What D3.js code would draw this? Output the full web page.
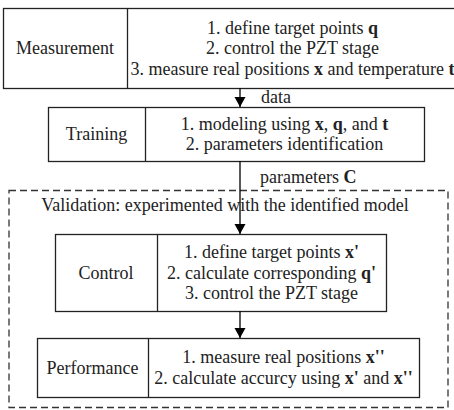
<!DOCTYPE html>
<html><head><meta charset="utf-8">
<script src="https://cdn.jsdelivr.net/npm/d3@7"></script>
<style>
body{margin:0;background:#fff;font-family:"Liberation Serif",Tinos,Times;}
svg text, svg tspan{font-family:"Liberation Serif",Tinos,Times !important;}
</style>
</head><body><svg id="c" width="454" height="410" font-family="Liberation Serif" style="font-family:'Liberation Serif'"></svg>
<script>
// ---- data ----
const stageNames = ["Measurement", "Training", "Control", "Performance"];
const stageSteps = [
  ["1. define target points **q**", "2. control the PZT stage", "3. measure real positions **x** and temperature **t**"],
  ["1. modeling using **x**, **q**, and **t**", "2. parameters identification"],
  ["1. define target points **x'**", "2. calculate corresponding **q'**", "3. control the PZT stage"],
  ["1. measure real positions **x''**", "2. calculate accurcy using **x'** and **x''**"]
];
const connectorLabels = ["data", "parameters **C**", "", ""];
const groupTitle = "Validation: experimented with the identified model";

// ---- layout ----
const boxes = [
  {x0: 3, x1: 458, y0: 8, y1: 88, div: 127},
  {x0: 48, x1: 424, y0: 107, y1: 161, div: 145},
  {x0: 55, x1: 386, y0: 234, y1: 311, div: 157},
  {x0: 37, x1: 419, y0: 338, y1: 397, div: 148}
];
const arrowX = 240;
const lineH = 20.5;

const svg = d3.select("#c");
const defs = svg.append("defs");
defs.append("marker").attr("id","ah").attr("viewBox","0 0 10 14")
  .attr("refX",10).attr("refY",7).attr("markerWidth",10).attr("markerHeight",14)
  .attr("markerUnits","userSpaceOnUse").attr("orient","auto")
  .append("path").attr("d","M0,1.5 L10,7 L0,12.5 Z").attr("fill","#000");

function addText(parent, x, y, anchor) {
  return parent.append("text").attr("x", x).attr("y", y + 6)
    .attr("text-anchor", anchor)
    .attr("font-family", "Liberation Serif")
    .attr("style", "font-family:'Liberation Serif',Tinos,Times;font-size:18px")
    .attr("fill","#222");
}
function richText(sel, str) {
  const parts = str.split("**");
  parts.forEach((p, i) => {
    if (!p) return;
    const t = sel.append("tspan").text(p);
    if (i % 2) t.attr("font-weight", "bold");
  });
}

// dashed group
svg.append("rect").attr("x", 9).attr("y", 190.5).attr("width", 439).attr("height", 217)
  .attr("fill","none").attr("stroke","#333").attr("stroke-width",1.3).attr("stroke-dasharray","7,4");
addText(svg, 225, 205, "middle").text(groupTitle);

// connectors
const connectorY = [[88, 107], [161, 234], [311, 338]];
const connLabelPos = [{x: 261, y: 97}, {x: 260, y: 177}];
connectorY.forEach((c, i) => {
  svg.append("line").attr("x1", arrowX).attr("x2", arrowX).attr("y1", c[0]).attr("y2", c[1])
    .attr("stroke","#000").attr("stroke-width",1.3).attr("marker-end","url(#ah)");
  if (connectorLabels[i]) {
    richText(addText(svg, connLabelPos[i].x, connLabelPos[i].y, "start"), connectorLabels[i]);
  }
});

// boxes
stageNames.forEach((name, i) => {
  const b = boxes[i];
  const g = svg.append("g");
  g.append("rect").attr("x", b.x0 + 0.5).attr("y", b.y0 + 0.5).attr("width", b.x1 - b.x0).attr("height", b.y1 - b.y0)
    .attr("fill","#fff").attr("stroke","#222").attr("stroke-width",1.3);
  g.append("line").attr("x1", b.div + 0.5).attr("x2", b.div + 0.5).attr("y1", b.y0).attr("y2", b.y1)
    .attr("stroke","#222").attr("stroke-width",1.3);
  const cy = (b.y0 + b.y1) / 2;
  addText(g, (b.x0 + b.div) / 2, cy, "middle").text(name);
  const steps = stageSteps[i];
  const cx = (b.div + b.x1) / 2;
  steps.forEach((s, j) => {
    const y = cy + (j - (steps.length - 1) / 2) * lineH;
    richText(addText(g, cx, y, "middle"), s);
  });
});
svg.selectAll("line[marker-end]").raise();
</script></body></html>
